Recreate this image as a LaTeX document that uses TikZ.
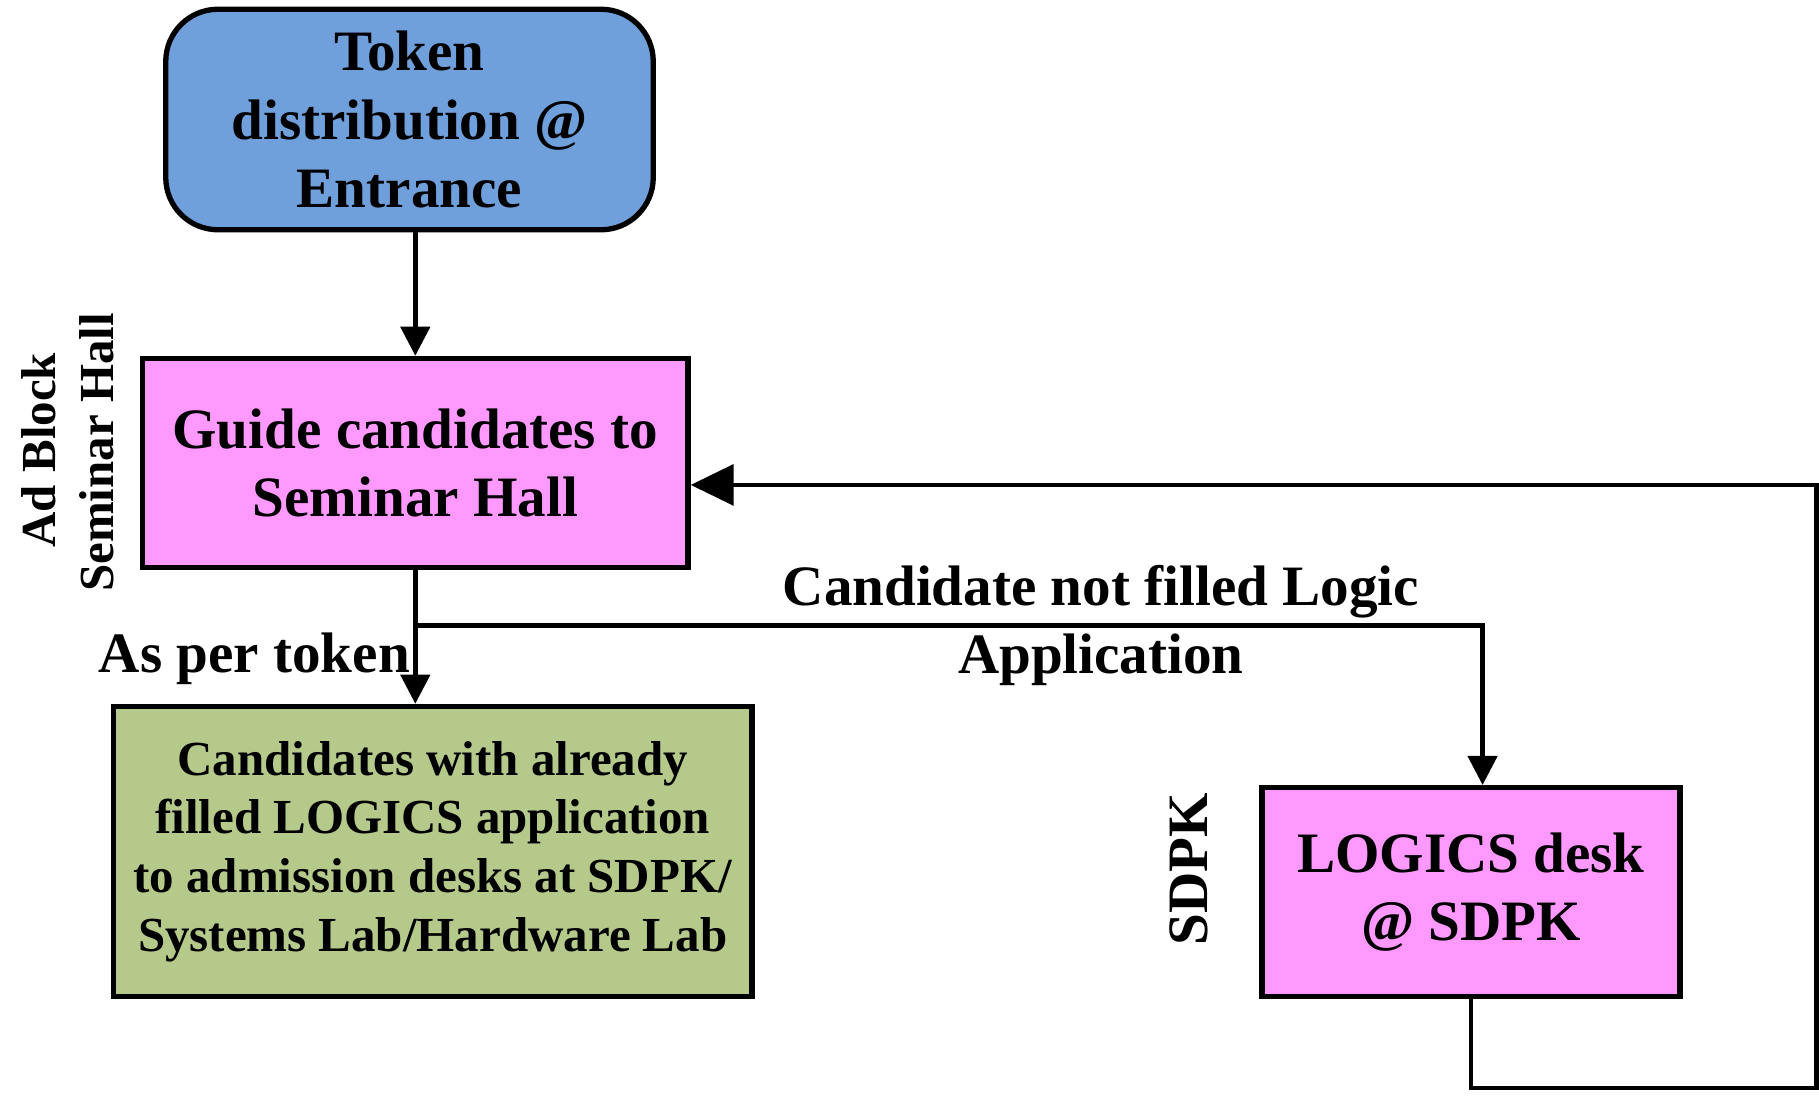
\documentclass[tikz,border=0pt]{standalone}
\usepackage{fontspec}
\setmainfont{Liberation Serif}
\usetikzlibrary{arrows.meta,calc}
\definecolor{TokenClr}{RGB}{112,160,220}
\definecolor{DeskClr}{RGB}{255,153,255}
\definecolor{CandClr}{RGB}{181,201,138}

\begin{document}
\begin{tikzpicture}[x=0.01cm,y=-0.01cm,
  box/.style={draw,line width=1.3pt,align=center,inner sep=0pt,
    font=\bfseries\fontsize{14}{16.8}\selectfont},
  flow/.style={line width=1.1pt,-{Triangle[length=0.25cm,width=0.25cm]}},
  back/.style={line width=1.1pt,-{Triangle[length=0.37cm,width=0.35cm]}},
  lbl/.style={align=center,font=\bfseries\fontsize{14}{16.8}\selectfont},
  side/.style={rotate=90,font=\bfseries\fontsize{12}{14.4}\selectfont}]
\useasboundingbox (0,0) rectangle (1568,944);

% boxes
\node[box,fill=TokenClr,rounded corners=0.45cm,minimum width=4.2cm,minimum height=1.9cm] (Token) at (353,103) {Token\\distribution @\\Entrance};
\node[box,fill=DeskClr,minimum width=4.7cm,minimum height=1.8cm] (Guide) at (358,399) {Guide candidates to\\Seminar Hall};
\node[box,fill=CandClr,minimum width=5.5cm,minimum height=2.5cm,font=\bfseries\fontsize{12}{14.4}\selectfont] (Cand) at (373,734) {Candidates with already\\filled LOGICS application\\to admission desks at SDPK/\\Systems Lab/Hardware Lab};
\node[box,fill=DeskClr,minimum width=3.6cm,minimum height=1.8cm] (Desk) at (1268,769) {LOGICS desk\\@ SDPK};

% side labels
\node[side] (AdBlk) at (33,388) {Ad Block};
\node[side] (SemHall) at (83,390) {Seminar Hall};
\node[side,font=\bfseries\fontsize{14}{16.8}\selectfont] (SdpkLbl) at (1025,749) {SDPK};

% corner points
\coordinate (split) at (358,539);
\coordinate (turn) at (1278,539);
\coordinate (down) at (1268,938);
\coordinate (far) at (1566,938);
\coordinate (up) at (1566,418);

% connectors
\draw[flow] (Token.south -| Guide.north) -- (Guide.north);
\draw[flow] (Guide.south) -- (Guide.south |- Cand.north);
\draw[flow] (split) -- (turn) -- (turn |- Desk.north);
\draw[back] (Desk.south) -- (down) -- (far) -- (up) -- (up -| Guide.east);

\node[lbl,anchor=east,inner sep=0pt] (PerTok) at (354,568) {As per token};
\node[lbl] (NotFill) at (949,539) {Candidate not filled Logic\\Application};

\end{tikzpicture}
\end{document}
